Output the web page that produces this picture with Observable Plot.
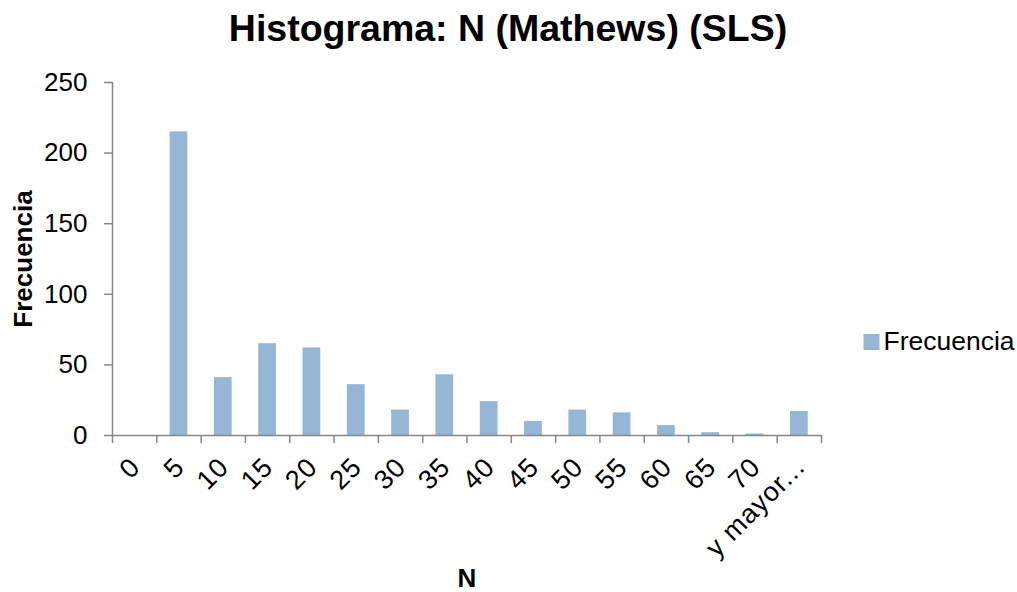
<!DOCTYPE html>
<html>
<head>
<meta charset="utf-8">
<script src="https://cdn.jsdelivr.net/npm/d3@7"></script>
<script src="https://cdn.jsdelivr.net/npm/@observablehq/plot@0.6"></script>
<style>
  html, body { margin: 0; padding: 0; background: #fff; }
  #chart svg { display: block; }
  g[aria-label="x-axis tick label"] text { letter-spacing: 1px; }
</style>
</head>
<body>
<div id="chart"></div>
<script>
// Histogram bins (upper limits) and their frequencies
const bins = ["0", "5", "10", "15", "20", "25", "30", "35", "40", "45", "50", "55", "60", "65", "70", "y mayor..."];
const frecuencia = [0, 215, 41, 65, 62, 36, 18, 43, 24, 10, 18, 16, 7, 2, 1, 17];
const yTicks = [0, 50, 100, 150, 200, 250];

const titleText = "Histograma: N (Mathews) (SLS)";
const xLabel = "N";
const yLabel = "Frecuencia";
const seriesName = "Frecuencia";

const rows = bins.map((bin, i) => ({i, bin, count: frecuencia[i]}));

const font = "'Liberation Sans', Arial, sans-serif";
const axisGray = "#878787";
const barFill = "#95b6d4";

const chart = Plot.plot({
  width: 1017,
  height: 592,
  marginLeft: 112,
  marginRight: 196,
  marginTop: 82,
  marginBottom: 157,
  style: {fontFamily: font, background: "#fff", color: "#000"},
  x: {type: "linear", domain: [0, bins.length], axis: null},
  y: {domain: [0, 250], axis: null},
  marks: [
    // bars, one per bin, centred in each category slot
    Plot.rectY(rows, {x1: d => d.i + 0.3, x2: d => d.i + 0.7, y: "count", fill: barFill}),
    // y axis: line, outward ticks and labels
    Plot.ruleX([0], {stroke: axisGray, strokeWidth: 1.5}),
    Plot.axisY(yTicks, {
      anchor: "left", tickSize: 8, tickPadding: 17, stroke: axisGray, strokeWidth: 1.5,
      fontSize: 26, fill: "#000", label: null
    }),
    // x axis: line and tick marks between categories
    Plot.ruleY([0], {stroke: axisGray, strokeWidth: 1.5}),
    Plot.axisX(d3.range(bins.length + 1), {
      anchor: "bottom", tickSize: 8, stroke: axisGray, strokeWidth: 1.5,
      tickFormat: () => "", label: null
    }),
    // rotated category labels
    Plot.axisX(rows.map(d => d.i + 0.5), {
      anchor: "bottom", tickSize: 0, tickPadding: 0,
      tickFormat: v => bins[Math.floor(v)],
      tickRotate: -45, textAnchor: "end", lineAnchor: "middle",
      dx: 1, dy: 27, fontSize: 27, fill: "#000", label: null
    }),
    // title
    Plot.text([titleText], {
      frameAnchor: "top", dx: 41, dy: -54, lineAnchor: "middle", fontSize: 37.5, fontWeight: "bold", fill: "#000"
    }),
    // axis titles
    Plot.text([xLabel], {
      frameAnchor: "bottom", dy: 143, lineAnchor: "middle", fontSize: 26, fontWeight: "bold", fill: "#000"
    }),
    Plot.text([yLabel], {
      frameAnchor: "left", dx: -89, rotate: -90, textAnchor: "middle", lineAnchor: "middle",
      fontSize: 26, fontWeight: "bold", fill: "#000"
    }),
    // legend
    Plot.dot([seriesName], {
      frameAnchor: "right", dx: 50, dy: 83, symbol: "square", r: 9, fill: barFill, stroke: null
    }),
    Plot.text([seriesName], {
      frameAnchor: "right", dx: 62, dy: 83, textAnchor: "start", lineAnchor: "middle", fontSize: 26.5, fill: "#000"
    })
  ]
});

document.getElementById("chart").append(chart);
</script>
</body>
</html>
